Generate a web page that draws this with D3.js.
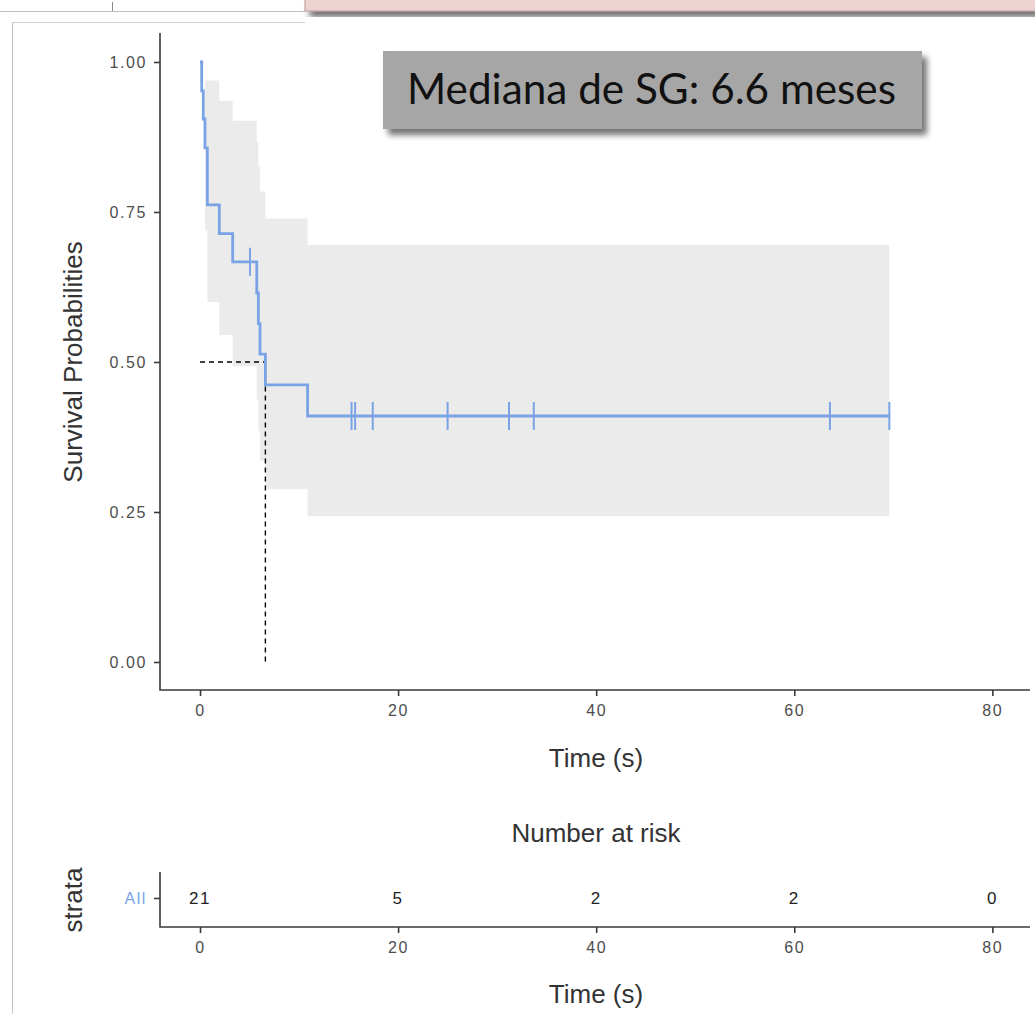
<!DOCTYPE html>
<html><head><meta charset="utf-8">
<script src="https://cdn.jsdelivr.net/npm/d3@7"></script>
<style>
html,body{margin:0;padding:0;background:#fff;}
svg{display:block;font-family:"Liberation Sans",Arial,sans-serif;}
</style></head>
<body><svg id="c" width="1035" height="1014"></svg>
<script>
// ---- data ----
const stepTimes = [0, 0.17, 0.33, 0.5, 0.74, 1.95, 3.3, 5.73, 5.89, 6.06, 6.6, 10.86];
const stepSurv  = [1, 0.952, 0.905, 0.857, 0.762, 0.714, 0.667, 0.615, 0.564, 0.513, 0.462, 0.410];
const lastTime = 69.6;
const bandTimes = [0.5, 0.74, 1.95, 3.3, 5.73, 5.89, 6.06, 6.6, 10.86];
const bandUpper = [0.969, 0.969, 0.935, 0.902, 0.866, 0.826, 0.784, 0.739, 0.695];
const bandLower = [0.720, 0.600, 0.545, 0.493, 0.438, 0.385, 0.336, 0.288, 0.243];
const censorTimes = [5.05, 15.3, 15.66, 17.44, 25.0, 31.2, 33.7, 63.6, 69.6];
const medianTime = 6.6;
const yTicks = [0, 0.25, 0.5, 0.75, 1.0];
const xTicks = [0, 20, 40, 60, 80];
const riskTimes = [0, 20, 40, 60, 80];
const riskCounts = [21, 5, 2, 2, 0];
const strata = ["All"];
const annotation = "Mediana de SG: 6.6 meses";

const svg = d3.select("#c");
const blue = "#7AA3E5";
const axisCol = "#3a3a3a";
const tickTextCol = "#4d4d4d";
const tickFont = "16px";
const tickSpacing = "1.6px";
const titleFont = "26px";

// ---- frame decorations ----
const defs = svg.append("defs");
const f = defs.append("filter").attr("id","sh").attr("x","-10%").attr("y","-20%").attr("width","130%").attr("height","160%");
f.append("feGaussianBlur").attr("in","SourceAlpha").attr("stdDeviation",3).attr("result","b");
f.append("feOffset").attr("in","b").attr("dx",5).attr("dy",6).attr("result","o");
f.append("feComponentTransfer").attr("in","o").attr("result","o2").append("feFuncA").attr("type","linear").attr("slope",0.55);
const m = f.append("feMerge"); m.append("feMergeNode").attr("in","o2"); m.append("feMergeNode").attr("in","SourceGraphic");

svg.append("line").attr("x1",0).attr("x2",305).attr("y1",11.5).attr("y2",11.5).attr("stroke","#bdbdbd").attr("stroke-width",1);
svg.append("line").attr("x1",112.5).attr("x2",112.5).attr("y1",2).attr("y2",11).attr("stroke","#888").attr("stroke-width",1);
svg.append("line").attr("x1",12.5).attr("x2",12.5).attr("y1",22).attr("y2",1014).attr("stroke","#c4c4c4").attr("stroke-width",1);
svg.append("line").attr("x1",12.5).attr("x2",305).attr("y1",22.5).attr("y2",22.5).attr("stroke","#d0d0d0").attr("stroke-width",1);
svg.append("rect").attr("x",305).attr("y",-3).attr("width",740).attr("height",14)
  .attr("fill","#EFD3D3").attr("stroke","#b89595").attr("stroke-width",1).attr("filter","url(#sh)");

// ---- main plot scales ----
const x = d3.scaleLinear().domain([-4.04, 83.8]).range([160, 1030]);
const y = d3.scaleLinear().domain([-0.0467, 1.0483]).range([690, 33]);

// confidence band
const bandPts = bandTimes.map((t,i)=>({t, u:bandUpper[i], l:bandLower[i]}));
bandPts.push({t:lastTime, u:bandUpper[bandUpper.length-1], l:bandLower[bandLower.length-1]});
svg.append("path").datum(bandPts)
  .attr("d", d3.area().curve(d3.curveStepAfter).x(d=>x(d.t)).y0(d=>y(d.l)).y1(d=>y(d.u)))
  .attr("fill","#EBEBEB");

// median lines
svg.append("path")
  .attr("d", d3.line()([[x(0), y(0.5)], [x(medianTime), y(0.5)], [x(medianTime), y(0)]]))
  .attr("fill","none").attr("stroke","#000").attr("stroke-width",1.4).attr("stroke-dasharray","5,4");

// survival step line
const linePts = stepTimes.map((t,i)=>[t, stepSurv[i]]);
linePts.push([lastTime, stepSurv[stepSurv.length-1]]);
svg.append("path").datum(linePts)
  .attr("d", d3.line().curve(d3.curveStepAfter).x(d=>x(d[0])).y(d=>y(d[1])))
  .attr("fill","none").attr("stroke",blue).attr("stroke-width",2.8);

// censor marks
function survAt(t){ let s=1; stepTimes.forEach((st,i)=>{ if(st<=t) s=stepSurv[i]; }); return s; }
svg.append("g").selectAll("line").data(censorTimes).join("line")
  .attr("x1",d=>x(d)).attr("x2",d=>x(d))
  .attr("y1",d=>y(survAt(d))-14).attr("y2",d=>y(survAt(d))+14)
  .attr("stroke",blue).attr("stroke-width",2);

// axes
function styleAxis(g){
  g.select(".domain").remove();
  g.selectAll(".tick line").attr("stroke",axisCol).attr("stroke-width",1.6);
  g.selectAll(".tick text").attr("fill",tickTextCol).style("font-size",tickFont)
    .style("letter-spacing",tickSpacing).style("font-family","'Liberation Sans',Arial,sans-serif");
}
svg.append("g").attr("transform","translate(160,0)")
  .call(d3.axisLeft(y).tickValues(yTicks).tickFormat(d3.format(".2f")).tickSize(6).tickPadding(7))
  .call(styleAxis);
svg.append("g").attr("transform","translate(0,690)")
  .call(d3.axisBottom(x).tickValues(xTicks).tickFormat(d3.format("d")).tickSize(6).tickPadding(9))
  .call(styleAxis);
svg.append("path").attr("d", d3.line()([[x.range()[0], y.range()[1]],[x.range()[0], y.range()[0]],[x.range()[1], y.range()[0]]]))
  .attr("fill","none").attr("stroke",axisCol).attr("stroke-width",1.6);

svg.append("text").attr("x",596).attr("y",767).attr("text-anchor","middle")
  .attr("fill","#333").style("font-size",titleFont).text("Time (s)");
svg.append("text").attr("transform","translate(82,362) rotate(-90)").attr("text-anchor","middle")
  .attr("fill","#333").style("font-size",titleFont).text("Survival Probabilities");

// annotation box
const ab = svg.append("g");
ab.append("rect").attr("x",383).attr("y",51).attr("width",539).attr("height",78)
  .attr("fill","#A6A6A6").attr("filter","url(#sh)");
const at = ab.append("text").attr("x",407).attr("y",104)
  .attr("fill","#111").style("font-family","Lato,'Open Sans',sans-serif").style("font-size","40px").text(annotation);
const w = at.node().getComputedTextLength();
at.style("font-size", (40*489/w).toFixed(2)+"px");

// ---- risk table ----
svg.append("text").attr("x",596).attr("y",842).attr("text-anchor","middle")
  .attr("fill","#333").style("font-size",titleFont).text("Number at risk");
const yr = d3.scalePoint().domain(strata).range([898, 898]);
const rg = svg.append("g").attr("transform","translate(160,0)")
  .call(d3.axisLeft(yr).tickSize(6).tickPadding(7));
rg.select(".domain").remove();
rg.selectAll(".tick line").attr("stroke",axisCol).attr("stroke-width",1.6);
rg.selectAll(".tick text").attr("fill",blue).style("font-size",tickFont).style("letter-spacing",tickSpacing)
  .style("font-family","'Liberation Sans',Arial,sans-serif");
svg.append("g").attr("transform","translate(0,927)")
  .call(d3.axisBottom(x).tickValues(xTicks).tickFormat(d3.format("d")).tickSize(6).tickPadding(9))
  .call(styleAxis);
svg.append("path").attr("d", d3.line()([[160,872],[160,927],[1030,927]]))
  .attr("fill","none").attr("stroke",axisCol).attr("stroke-width",1.6);
svg.append("g").selectAll("text").data(riskTimes).join("text")
  .attr("x",d=>x(d)).attr("y",yr("All")).attr("dy","0.36em").attr("text-anchor","middle")
  .attr("fill","#222").style("font-size","17px").style("letter-spacing","1.5px").text((d,i)=>riskCounts[i]);
svg.append("text").attr("x",596).attr("y",1003).attr("text-anchor","middle")
  .attr("fill","#333").style("font-size",titleFont).text("Time (s)");
svg.append("text").attr("transform","translate(82,900) rotate(-90)").attr("text-anchor","middle")
  .attr("fill","#333").style("font-size",titleFont).text("strata");
</script></body></html>
